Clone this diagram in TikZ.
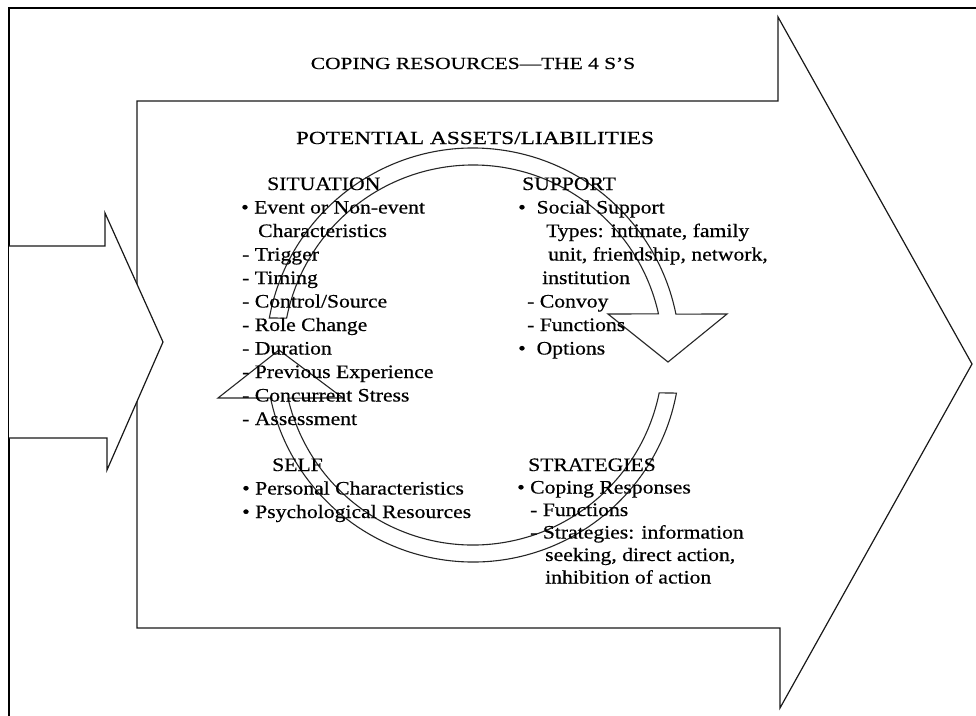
\documentclass[tikz,border=0pt]{standalone}
\usepackage{fontspec}
\setmainfont{Liberation Serif}
\newfontfamily\tfont[FakeStretch=1.14,FakeBold=0.5]{Liberation Serif}
\newfontfamily\hfont[FakeStretch=1.26,FakeBold=0.5]{Liberation Serif}
\begin{document}
\begin{tikzpicture}[x=1pt,y=-1pt,
  frameline/.style={line width=2pt,black},
  arrowshape/.style={line width=1.2pt,black!90,line join=miter},
  ringarrow/.style={line width=1.1pt,black!85,line join=miter},
  txt/.style={anchor=base west,inner sep=0pt,font=\tfont\fontsize{19pt}{22pt}\selectfont},
  ttl/.style={anchor=base,inner sep=0pt,font=\hfont\fontsize{17pt}{22pt}\selectfont},
  sub/.style={anchor=base,inner sep=0pt,font=\hfont\fontsize{18.5pt}{22pt}\selectfont}]
\useasboundingbox (0,0) rectangle (976,715);
\fill[white] (0,0) rectangle (976,715);
% outer frame
\draw[frameline] (9,730) -- (9,8) -- (990,8);
% big arrow
\draw[arrowshape] (137,101) -- (778,101) -- (778,17) -- (972,364) -- (780,708) -- (780,628) -- (137,628) -- cycle;
% small arrow (in front)
\draw[arrowshape,fill=white] (9,246) -- (105,246) -- (105,213) -- (163,342) -- (107,470) -- (107,438) -- (9,438);
% ring arrows
\coordinate (C) at (473,355);
\draw[ringarrow] ([shift={(-169.7:207)}]C) arc[start angle=-169.7,end angle=-11.4,radius=207]
  -- (727,314) -- (668,362) -- (608,314)
  -- ([shift={(-12.5:190)}]C) arc[start angle=-12.5,end angle=-168.8,radius=190] -- cycle;
\draw[ringarrow] ([shift={(10.6:207)}]C) arc[start angle=10.6,end angle=168.0,radius=207]
  -- (218,398) -- (279,350) -- (343,398)
  -- ([shift={(166.9:190)}]C) arc[start angle=166.9,end angle=11.5,radius=190] -- cycle;
% titles
\node[ttl] (title) at (473,69) {COPING RESOURCES—THE 4 S’S};
\node[sub] (assets) at (475,144) {POTENTIAL ASSETS/LIABILITIES};
% situation
\node[txt] (sit0) at (267,190) {SITUATION};
\node[txt] (sit1) at (241,213.5) {• Event or Non-event};
\node[txt] (sit2) at (258,237) {Characteristics};
\node[txt] (sit3) at (242,260.5) {- Trigger};
\node[txt] (sit4) at (242,284) {- Timing};
\node[txt] (sit5) at (242,307.5) {- Control/Source};
\node[txt] (sit6) at (242,331) {- Role Change};
\node[txt] (sit7) at (242,354.5) {- Duration};
\node[txt] (sit8) at (242,378) {- Previous Experience};
\node[txt] (sit9) at (242,401.5) {- Concurrent Stress};
\node[txt] (sit10) at (242,425) {- Assessment};
% support
\node[txt] (sup0) at (522,190) {SUPPORT};
\node[txt] (sup1) at (518,213.5) {•\ \ Social Support};
\node[txt] (sup2) at (546,237) {Types: intimate, family};
\node[txt] (sup3) at (548,260.5) {unit, friendship, network,};
\node[txt] (sup4) at (542,284) {institution};
\node[txt] (sup5) at (527,307.5) {- Convoy};
\node[txt] (sup6) at (527,331) {- Functions};
\node[txt] (sup7) at (518,354.5) {•\ \ Options};
% self
\node[txt] (self0) at (272,471) {SELF};
\node[txt] (self1) at (242,494.5) {• Personal Characteristics};
\node[txt] (self2) at (242,518) {• Psychological Resources};
% strategies
\node[txt] (str0) at (528,471) {STRATEGIES};
\node[txt] (str1) at (517,493.5) {• Coping Responses};
\node[txt] (str2) at (530,516) {- Functions};
\node[txt] (str3) at (530,538.5) {- Strategies: information};
\node[txt] (str4) at (545,561) {seeking, direct action,};
\node[txt] (str5) at (545,583.5) {inhibition of action};
\end{tikzpicture}
\end{document}
